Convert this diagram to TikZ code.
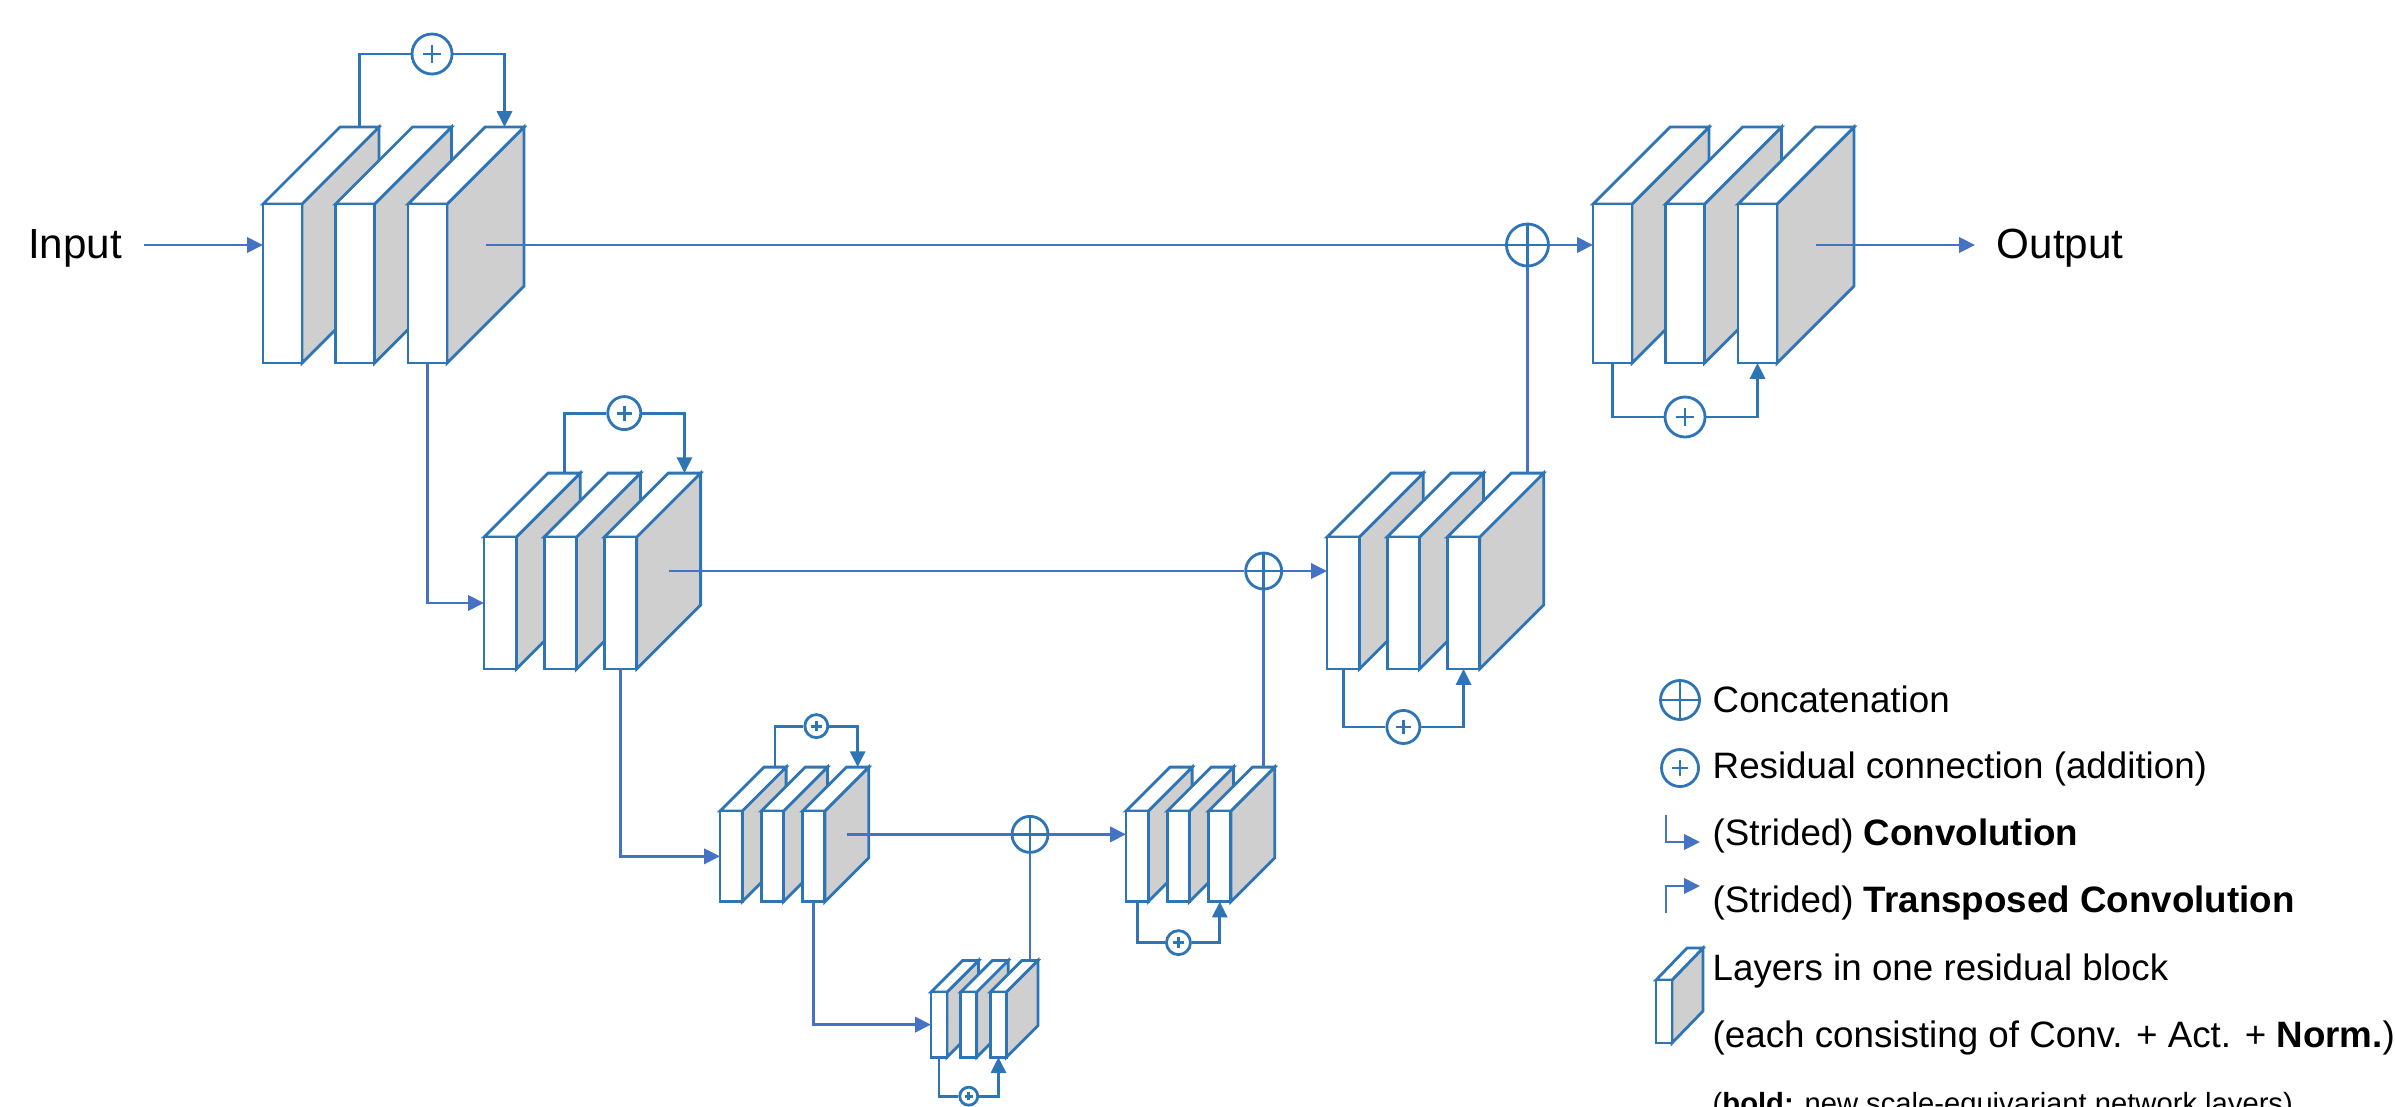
\documentclass[tikz,border=0pt]{standalone}
\usepackage{fontspec}
\setmainfont{Liberation Sans}
\usetikzlibrary{arrows.meta, calc}

\definecolor{edgeblue}{HTML}{2E75B6}
\definecolor{lineblue}{HTML}{4472C4}
\definecolor{slabgrey}{HTML}{CFCFCF}

\tikzset{
	slab/.style={draw=edgeblue, line width=0.8pt},
	wire/.style={draw=lineblue, line width=0.8pt},
	arr/.style={wire, -{Triangle[length=4.5pt, width=4.3pt]}},
	resplus/.style={circle, draw=edgeblue, fill=white, line width=0.8pt, inner sep=0pt, minimum size=#1,
		path picture={\draw[edgeblue, line width=0.8pt]
			($(path picture bounding box.center)!0.45!(path picture bounding box.west)$) -- ($(path picture bounding box.center)!0.45!(path picture bounding box.east)$)
			($(path picture bounding box.center)!0.45!(path picture bounding box.north)$) -- ($(path picture bounding box.center)!0.45!(path picture bounding box.south)$);}},
	resplus/.default=0.4cm,
	concat/.style={circle, draw=edgeblue, fill=white, line width=0.8pt, inner sep=0pt, minimum size=#1,
		path picture={\draw[edgeblue, line width=0.8pt]
			(path picture bounding box.west) -- (path picture bounding box.east)
			(path picture bounding box.north) -- (path picture bounding box.south);}},
	concat/.default=0.4cm,
	iotext/.style={font=\fontsize{12pt}{14pt}\selectfont, inner sep=6pt},
	legend/.style={font=\fontsize{10.45pt}{12pt}\selectfont, anchor=base west, inner sep=0pt},
}

% three layers of one residual block: name, x, y (front top left), scale
\newcommand{\resblock}[4]{%
	\pgfmathsetmacro{\slabw}{39*#4}
	\pgfmathsetmacro{\slabh}{159*#4}
	\pgfmathsetmacro{\slabd}{77*#4}
	\pgfmathsetmacro{\slabs}{72.5*#4}
	\foreach \i in {0,1,2}{
		\pgfmathsetmacro{\slabx}{#2+\i*\slabs}
		\filldraw[slab, fill=slabgrey] (\slabx+\slabw,#3) -- ++(\slabd,-\slabd) -- ++(0,\slabh) -- ++(-\slabd,\slabd) -- cycle;
		\filldraw[slab, fill=white] (\slabx,#3) -- ++(\slabd,-\slabd) -- ++(\slabw,0) -- ++(-\slabd,\slabd) -- cycle;
		\filldraw[slab, fill=white] (\slabx,#3) rectangle ++(\slabw,\slabh);
	}
	\coordinate (#1-w) at (#2,#3+\slabh/2);
	\coordinate (#1-out) at (#2+2*\slabs+\slabw+\slabd/2,#3+\slabh/2-\slabd/2);
	\coordinate (#1-b1) at (#2+\slabw/2,#3+\slabh);
	\coordinate (#1-b3) at (#2+2*\slabs+\slabw/2,#3+\slabh);
	\coordinate (#1-t1) at (#2+\slabd+\slabw/2,#3-\slabd);
	\coordinate (#1-t3) at (#2+2*\slabs+\slabd+\slabw/2,#3-\slabd);
}

\begin{document}
\begin{tikzpicture}[x=0.01cm, y=-0.01cm]
	\useasboundingbox (0,0) rectangle (2395,1106);

	% Residual blocks:
	\resblock{enc0}{263}{204}{1}
	\resblock{enc1}{484}{537}{0.83}
	\resblock{enc2}{720}{811}{0.57}
	\resblock{mid}{931}{992}{0.41}
	\resblock{dec2}{1126}{811}{0.57}
	\resblock{dec1}{1327}{537}{0.83}
	\resblock{dec0}{1593}{204}{1}

	% Residual connections:
	\node[resplus=0.4cm] (res-enc0) at ($(enc0-t1)!0.5!(enc0-t3)+(0,-73)$) {};
	\node[resplus=0.33cm] (res-enc1) at ($(enc1-t1)!0.5!(enc1-t3)+(0,-60)$) {};
	\node[resplus=0.23cm] (res-enc2) at ($(enc2-t1)!0.5!(enc2-t3)+(0,-41)$) {};
	\node[resplus=0.18cm] (res-mid) at ($(mid-b1)!0.5!(mid-b3)+(0,39)$) {};
	\node[resplus=0.24cm] (res-dec2) at ($(dec2-b1)!0.5!(dec2-b3)+(0,41)$) {};
	\node[resplus=0.33cm] (res-dec1) at ($(dec1-b1)!0.5!(dec1-b3)+(0,58)$) {};
	\node[resplus=0.4cm] (res-dec0) at ($(dec0-b1)!0.5!(dec0-b3)+(0,54)$) {};
	\foreach \blk in {enc0, enc1, enc2}{
		\draw[wire, edgeblue] (\blk-t1) |- (res-\blk);
		\draw[arr, edgeblue] (res-\blk) -| (\blk-t3);
	}
	\foreach \blk in {mid, dec2, dec1, dec0}{
		\draw[wire, edgeblue] (\blk-b1) |- (res-\blk);
		\draw[arr, edgeblue] (res-\blk) -| (\blk-b3);
	}

	% Concatenations:
	\node[concat=0.42cm] (cat0) at (enc0-out -| dec1-t3) {};
	\node[concat=0.36cm] (cat1) at (enc1-out -| dec2-t3) {};
	\node[concat=0.36cm] (cat2) at (enc2-out -| mid-t3) {};
	\draw[wire] (enc0-out) -- (cat0);
	\draw[wire] (enc1-out) -- (cat1);
	\draw[wire] (enc2-out) -- (cat2);
	\draw[wire] (dec1-t3) -- (cat0);
	\draw[wire] (dec2-t3) -- (cat1);
	\draw[wire] (mid-t3) -- (cat2);
	\draw[arr] (cat0) -- (cat0 -| dec0-w);
	\draw[arr] (cat1) -- (cat1 -| dec1-w);
	\draw[arr] (cat2) -- (cat2 -| dec2-w);

	% Strided convolutions:
	\draw[arr] (enc0-b3) |- (enc1-w);
	\draw[arr] (enc1-b3) |- (enc2-w);
	\draw[arr] (enc2-b3) |- (mid-w);

	% Input and output:
	\node[iotext, anchor=base] (input) at (75,258) {Input};
	\node[iotext, anchor=base west] (output) at (1975,258) {Output};
	\draw[arr] (input.east |- enc0-out) -- (enc0-w |- enc0-out);
	\draw[arr] (dec0-out) -- (output.west |- dec0-out);

	% Legend:
	\node[concat=0.39cm] (key-cat) at (1680,700) {};
	\node[resplus=0.37cm] (key-res) at (1680,768) {};
	\draw[arr] (1666,815) |- (1700,842);
	\draw[arr] (1666,913) |- (1700,886);
	\filldraw[slab, fill=slabgrey] (1672,980) -- (1703,948) -- (1703,1011) -- (1672,1043) -- cycle;
	\filldraw[slab, fill=white] (1656,980) -- (1687,948) -- (1703,948) -- (1672,980) -- cycle;
	\filldraw[slab, fill=white] (1656,980) rectangle (1672,1043);
	\node[legend] (key-cat-text) at (1712,712) {Concatenation};
	\node[legend] (key-res-text) at (1712,778) {Residual connection (addition)};
	\node[legend] (key-conv-text) at (1712,845) {(Strided) \textbf{Convolution}};
	\node[legend] (key-tconv-text) at (1712,912) {(Strided) \textbf{Transposed Convolution}};
	\node[legend] (key-slab-text) at (1712,980) {Layers in one residual block};
	\node[legend] (key-slab-sub) at (1712,1047) {(each consisting of Conv. + Act. + \textbf{Norm.})};
	\node[legend, font=\fontsize{8.3pt}{10pt}\selectfont] (key-bold) at (1712,1113) {(\textbf{bold:} new scale-equivariant network layers)};
\end{tikzpicture}
\end{document}
